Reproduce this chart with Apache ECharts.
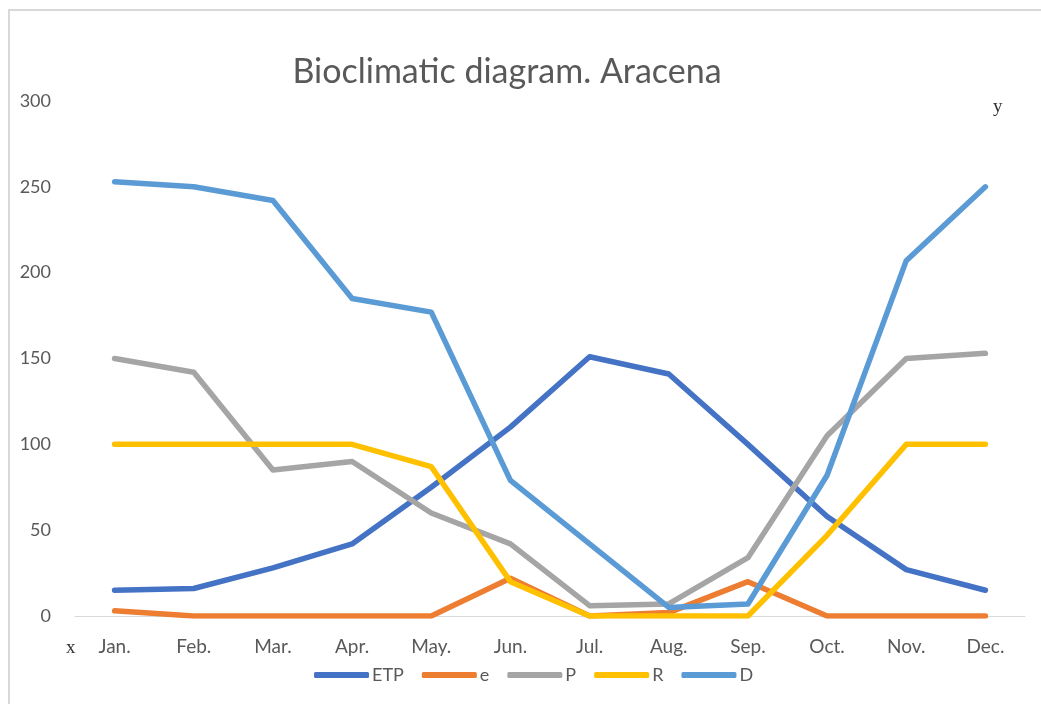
<!DOCTYPE html>
<html>
<head>
<meta charset="utf-8">
<script src="https://cdn.jsdelivr.net/npm/echarts@6/dist/echarts.min.js"></script>
<style>
  html, body { margin: 0; padding: 0; background: #fff; }
  #chart { width: 1041px; height: 704px; }
</style>
</head>
<body>
<div id="chart"></div>
<script>
// months on the x axis
const months = ['Jan.', 'Feb.', 'Mar.', 'Apr.', 'May.', 'Jun.', 'Jul.', 'Aug.', 'Sep.', 'Oct.', 'Nov.', 'Dec.'];

// series values
const etp = [15, 16, 28, 42, 75, 110, 151, 141, 100, 58, 27, 15];
const e   = [3, 0, 0, 0, 0, 22, 0, 2, 20, 0, 0, 0];
const p   = [150, 142, 85, 90, 60, 42, 6, 7, 34, 105, 150, 153];
const r   = [100, 100, 100, 100, 87, 20, 0, 0, 0, 47, 100, 100];
const d   = [253, 250, 242, 185, 177, 79, 42, 5, 7, 82, 207, 250];

const seriesNames = ['ETP', 'e', 'P', 'R', 'D'];
const seriesData  = [etp, e, p, r, d];
const colors      = ['#4472C4', '#ED7D31', '#A5A5A5', '#FFC000', '#5B9BD5'];

const font = 'Lato, "Open Sans", sans-serif';
const chart = echarts.init(document.getElementById('chart'));

const option = {
  animation: false,
  color: colors,
  title: {
    text: 'Bioclimatic diagram. Aracena',
    left: 502,
    top: 50,
    textAlign: 'center',
    textStyle: { fontFamily: font, fontSize: 34, fontWeight: 'normal', color: '#595959' }
  },
  legend: {
    data: seriesNames,
    left: 309,
    top: 661,
    icon: 'roundRect',
    itemWidth: 55,
    itemHeight: 6,
    itemGap: 18,
    textStyle: { fontFamily: font, fontSize: 18, color: '#595959', padding: [0, 0, 0, -2] }
  },
  grid: { left: 75, right: 16, top: 101, bottom: 88 },
  xAxis: {
    type: 'category',
    data: months,
    boundaryGap: true,
    axisLine: { lineStyle: { color: '#D9D9D9', width: 1 } },
    axisTick: { show: false },
    axisLabel: { margin: 21, fontFamily: font, fontSize: 19, color: '#595959' }
  },
  yAxis: {
    type: 'value',
    min: 0,
    max: 300,
    interval: 50,
    axisLine: { show: false },
    axisTick: { show: false },
    splitLine: { show: false },
    axisLabel: { margin: 24, fontFamily: font, fontSize: 18, color: '#595959' }
  },
  graphic: [
    {
      type: 'rect',
      shape: { x: 9, y: 10, width: 1100, height: 800 },
      style: { fill: 'none', stroke: '#D9D9D9', lineWidth: 2 },
      silent: true
    },
    {
      type: 'text',
      left: 993,
      top: 98,
      style: { text: 'y', font: '19px "Liberation Serif", serif', fill: '#333' }
    },
    {
      type: 'text',
      left: 66,
      top: 639,
      style: { text: 'x', font: '19px "Liberation Serif", serif', fill: '#333' }
    }
  ],
  series: seriesNames.map((name, i) => ({
    name: name,
    type: 'line',
    data: seriesData[i],
    showSymbol: false,
    symbol: 'none',
    lineStyle: { width: 5.5, color: colors[i], cap: 'round', join: 'round' },
    itemStyle: { color: colors[i] }
  }))
};

chart.setOption(option);
</script>
</body>
</html>
